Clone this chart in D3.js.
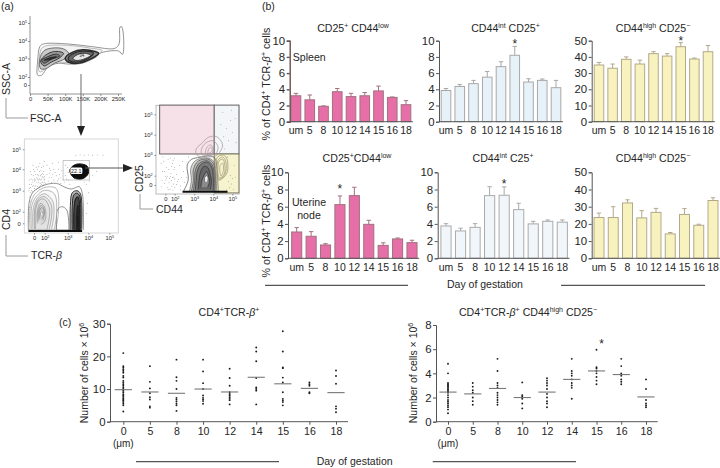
<!DOCTYPE html>
<html><head><meta charset="utf-8">
<script src="https://cdn.jsdelivr.net/npm/d3@7/dist/d3.min.js"></script>
<style>html,body{margin:0;padding:0;background:#fff}svg{display:block}text{font-family:"Liberation Sans",Arial,sans-serif;fill:#262626}</style>
</head><body><svg id="c" width="720" height="468"><defs><filter id="soft" x="-5%" y="-5%" width="110%" height="110%"><feGaussianBlur stdDeviation=".35"/></filter></defs></svg>
<script>
// ---------- data ----------
const barCats = ["um","5","8","10","12","14","15","16","18"];
const spleenLow = [3.2,2.7,1.9,3.7,3.1,3.2,3.8,3.0,2.1];
const spleenLowErr = [3.5,3.3,1.95,4.1,3.5,3.6,4.4,3.05,2.6];
const spleenInt = [3.85,4.35,4.7,5.5,6.8,8.2,4.9,5.1,4.2];
const spleenIntErr = [4.1,4.6,5.1,6.2,7.4,9.3,5.3,5.27,5.1];
const spleenHigh = [35,33,38.5,35.6,42,40.5,46.3,38.7,43.2];
const spleenHighErr = [36.6,35.6,40,38,43.2,42,48.8,39.3,47];
const nodeLow = [3.06,2.56,1.55,6.24,7.29,3.95,1.5,2.25,1.82];
const nodeLowErr = [3.57,3.1,1.7,7.25,8.26,4.42,1.8,2.36,2.1];
const nodeInt = [3.76,3.18,3.6,7.29,7.33,5.66,4.0,4.3,4.2];
const nodeIntErr = [4.03,3.5,4.03,8.33,8.3,6.4,4.3,4.46,4.46];
const nodeHigh = [23.7,23.7,32.2,23.5,26.7,14.2,25.5,19.2,33.6];
const nodeHighErr = [26.3,30,34,27.7,29,15,28.9,19.8,35.2];

const dotCats = ["0","5","8","10","12","14","15","16","18"];
const allCells = [
 [3.1,5,5.5,6,6.4,6.8,7.2,7.6,8,8.4,9,9.5,10,10.5,11,11.5,12,12.5,13.5,14,15,15.5,16,16.5,17,21],
 [4.3,4.7,6.8,7.5,8.7,10.2,12.2,17],
 [3.3,5,5.5,6.2,6.8,7.3,10,12.5,13.6,19],
 [5.5,6.3,6.8,7.3,8,10,11.8,15.4,19],
 [5.3,6.6,7,7.5,8,8.5,9,11,13.4,16.2],
 [5.3,9.5,10,10.5,13.4,18.5,21.5,22.7],
 [5,6,6.5,7,9,12,13.5,16.4,16.6,21.5,27.7],
 [8.7,9,11,11.5,12],
 [2.9,4,4.7,11.6,14,15.7]];
const allMedians = [9.8,9.1,8.7,10,9.1,13.6,11.6,10.2,8.9];
const highCells = [
 [.7,1,1.2,1.35,1.5,1.65,1.8,2,2.2,2.4,2.5,2.6,2.7,2.8,2.9,3,3.1,3.2,4,4.8],
 [1.4,1.7,2,2.4,2.6,2.9,3.2],
 [1.4,1.6,1.8,2,2.2,2.4,2.8,3,3.2,4.2,5.2],
 [1.1,1.5,1.9,2.1,2.2,3.25],
 [1.2,1.5,1.7,2,2.3,2.7,3,3.2,3.4,3.6],
 [1.9,2.8,3,3.2,3.5,3.8,4,4.2,5.2],
 [3.1,3.4,3.7,4,4.2,4.4,4.5,5.95],
 [3.1,3.3,3.5,3.8,4,4.6,5.2],
 [1.2,1.35,1.5,1.8,2.7,3.5]];
const highMedians = [2.45,2.3,2.75,2,2.45,3.5,4.2,3.9,2.05];

// flow plot 1: [FSC in K, log10 SSC]
const fscContours = [
 [[22,2.92],[28,3.68],[38,3.83],[109,3.83],[175,3.68],[241,3.58],[253,3.83],[256,4.78],[261,4.78],[263,3.24],[251,3.43],[199,3.3],[189,3.1],[147,2.74],[109,2.7],[80,2.74],[52,2.56],[33,2.1],[22,2.1]],
 [[26,2.95],[32,3.55],[45,3.72],[110,3.75],[170,3.6],[205,3.45],[190,3.2],[150,2.85],[110,2.78],[75,2.8],[50,2.65],[35,2.3],[26,2.3]],
 [[28,3],[40,3.45],[65,3.6],[95,3.55],[110,3.3],[100,3],[70,2.75],[45,2.45],[30,2.45]],
 [[30,2.85],[45,3.2],[70,3.4],[95,3.3],[85,3.05],[60,2.8],[40,2.6]],
 [[33,2.9],[50,3.1],[75,3.25],[85,3.15],[60,2.95],[40,2.75]],
 [[40,2.9],[60,3.05],[75,3.1],[60,2.98]],
 [[100,3],[120,3.35],[150,3.5],[185,3.4],[195,3.3],[170,2.95],[140,2.75],[110,2.8]],
 [[108,3],[125,3.3],[150,3.42],[180,3.32],[165,3],[140,2.82],[115,2.85]],
 [[122,3],[135,3.22],[155,3.3],[172,3.18],[150,2.95],[130,2.9]]];
const fscContourWeights = [.8,.5,.6,.9,.9,1.2,1.5,1.2,.8];
const fscContourFills = ["none","#f3f3f3","#c9c9c9","#9c9c9c","#777","#444","#888","#666","#e6e6e6"];

// flow plot 2: [log10 TCR, log10 CD4]
const cd4Contours = [
 [[-1.06,-1.14],[-.88,2.48],[-.12,2.95],[2.01,3.27],[2.52,3.34],[2.88,3.16],[3.19,3.08],[3.56,3.19],[3.71,2.87],[3.76,-1.14]],
 [[2.52,-1.14],[2.55,2.08],[2.74,2.24],[2.96,2.08],[3.06,-1.14]],
 [[-.75,-1],[-.65,2.35],[.2,2.85],[2,3.15],[2.5,3.1],[2.6,2],[2.48,-1]],
 [[-.5,-1],[-.4,2.3],[.5,2.75],[2,3.02],[2.42,2.85],[2.52,1.8],[2.42,-1]],
 [[-.2,-1],[-.1,2.2],[.8,2.7],[2,2.85],[2.35,2.5],[2.4,1.5],[2.3,-1]],
 [[.1,-1],[.15,2.15],[.9,2.62],[1.95,2.72],[2.28,2.35],[2.3,1.2],[2.2,-1]],
 [[.3,-1],[.3,2.1],[1,2.55],[1.9,2.6],[2.2,2.2],[2.2,1],[2.1,-1]],
 [[.6,0],[.6,2],[1.2,2.4],[1.8,2.3],[2.05,1.9],[2,.3],[1.3,-.2]],
 [[.8,.4],[.8,2],[1.3,2.3],[1.8,2.2],[1.95,1.7],[1.7,.5]],
 [[1,.8],[1,2],[1.4,2.2],[1.8,2.1],[1.85,1.5],[1.5,.8]],
 [[1.2,1.3],[1.3,1.9],[1.6,1.95],[1.65,1.5]],
 [[3.12,-1.1],[3.13,2.3],[3.22,2.9],[3.45,3],[3.62,2.85],[3.68,-1.1]],
 [[3.22,-1.1],[3.22,2.2],[3.3,2.8],[3.45,2.88],[3.58,2.75],[3.63,-1.1]],
 [[3.3,-1.1],[3.3,2],[3.38,2.6],[3.5,2.7],[3.57,2.4],[3.58,-1.1]],
 [[3.45,-1.1],[3.45,1.5],[3.5,2.3],[3.55,1.5],[3.55,-1.1]]];
const cd4ContourWeights = [.7,.7,.45,.45,.45,.45,.45,.45,.45,.45,.45,.9,1,1.2,2];
const cd4ContourFills = ["none","#fff","none","#f8f8f8","#f1f1f1","#e9e9e9","#e2e2e2","#dbdbdb","#d2d2d2","#cbcbcb","#efefef","#bbb","#888","#444","#111"];
const cd4Band = [[-1.05,-1.3],[3.7,-1.3]];
const cd4Blob = [[3.1,3.95],[3.3,4.2],[3.6,4.27],[3.95,4.15],[4,3.8],[3.7,3.55],[3.3,3.6]];
const cd4Gate = [[2.8,4.44],[4.05,3.5]];
const cd4Dots = [[-.8,3.1],[-.5,3.3],[-.2,3.5],[.2,3.2],[.5,3.6],[.9,3.4],[1.2,3.7],[1.5,3.4],[1.8,3.9],[2,3.5],[2.2,3.8],[2.4,3.5],[2.6,4],[2.7,3.6],[2.9,3.7],[3,4.1],[.1,3.9],[.6,4],[1,3.9],[1.4,4.1],[1.7,3.6],[2.1,4.2],[2.3,3.4],[2.5,3.7],[-.6,2.9],[-.9,2.7],[-.3,3.2],[.3,3.5],[.8,3.7],[1.3,3.5],[1.6,3.8],[1.9,3.4],[2.2,3.6],[2.8,3.5],[3.05,3.5],[-.9,3.5],[-.7,3.9],[-.2,4.2],[1.1,4.3],[1.9,4.4],[2.6,4.35],[3.4,4.7],[3.6,4.72],[3.8,4.7],[4,4.72],[4.2,4.7],[4.45,4.72],[4.7,4.7],[-.9,1.5],[-.95,.8],[-.95,2.1],[.1,3.1],[.7,3.2],[1.1,3.2],[1.6,3.25],[2.4,4],[2.9,4.2],[3.1,3.3],[3.8,3.4],[4.2,3.7],[4.4,3.9],
 [-.95,3],[-.85,3.3],[-.75,2.5],[-.65,3.15],[-.55,3.55],[-.45,3],[-.35,3.4],[-.25,2.95],[-.15,3.7],[-.05,3.25],[.05,3.55],[.15,3],[.25,3.75],[.35,3.25],[.45,3.05],[.55,3.4],[.65,3.75],[.75,3.1],[.85,3.5],[.95,3.15],[1.05,3.55],[1.15,3.35],[1.25,3.25],[1.35,3.75],[1.45,3.55],[1.55,3.65],[1.65,3.4],[1.75,3.75],[1.85,3.3],[1.95,3.65],[2.05,3.35],[2.15,3.45],[2.25,3.95],[2.35,3.75],[2.45,3.85],[2.55,3.45],[2.65,3.75],[2.75,3.95],[2.85,3.4],[2.95,3.55],[3.02,3.85],[-.9,2.2],[-.95,1.8],[-.98,1.2],[-.98,.4],[-.1,4],[.4,4.1],[.85,4.15],[1.3,3.95],[1.75,4.15],[2.2,4.05],[2.35,4.3],[-.5,3.75],[.1,3.45],[.7,3.55],[1.4,3.3],[1.9,3.55],[2.1,3.75],[2.3,3.6],[2.6,3.55],[2.7,3.35],[3.9,3.3],[4.05,3.45],[4,2.9],[3.95,2.4],[3.9,1.7]];

// flow plot 3: [log10 CD44, log10 CD25]
const cd25Contours = [
 [[2.44,-1.4],[2.69,1.07],[2.64,2.52],[2.86,2.79],[3.3,2.89],[3.83,2.95],[4.09,2.84],[4.18,2.44],[4.26,-1.4]],
 [[2.75,-1.4],[2.85,1],[2.82,2.35],[3.05,2.72],[3.6,2.86],[4,2.72],[4.12,2.2],[4.18,-1.4]],
 [[2.85,-1.4],[2.95,1],[2.95,2.3],[3.2,2.7],[3.7,2.8],[4,2.6],[4.1,2],[4.1,-1.4]],
 [[2.95,-1.3],[3.02,1],[3.05,2.25],[3.28,2.62],[3.7,2.72],[3.96,2.5],[4.05,1.7],[4.05,-1.3]],
 [[3.05,-1.2],[3.1,1],[3.15,2.2],[3.35,2.55],[3.7,2.65],[3.92,2.4],[4,1.5],[4,-1.2]],
 [[3.2,-1],[3.25,1],[3.3,2.1],[3.5,2.45],[3.7,2.4],[3.85,2],[3.9,1],[3.85,-1]],
 [[3.35,-.5],[3.4,1],[3.5,2],[3.65,2.2],[3.75,1.9],[3.8,.8],[3.7,-.5]],
 [[3.55,.7],[3.55,1.6],[3.65,2],[3.72,1.6],[3.7,.7]]];
const cd25ContourWeights = [.6,.5,.6,.6,.7,.8,.8,.5];
const cd25ContourFills = ["none","#dcd9d2","#bbb","#999","#7a7a7a","#666","#8a8a8a","#f2f2f2"];
const cd25UpperRings = [
 [[3.12,3.0],[3.1,3.3],[3.39,3.57],[3.74,3.87],[4.18,3.9],[4.49,3.49],[4.26,3.05],[4.0,2.92]],
 [[3.4,3.02],[3.4,3.35],[3.65,3.62],[4,3.7],[4.25,3.4],[4.1,3.05]],
 [[3.6,3.05],[3.65,3.35],[3.85,3.5],[4,3.3],[3.9,3.05]],
 [[3.72,3.08],[3.76,3.3],[3.88,3.38],[3.94,3.2]]];
const cd25YellowRings = [
 [[4.18,2.84],[4.49,3.0],[4.7,2.85],[4.74,2.19],[4.49,1.4],[4.26,1.07]],
 [[4.25,2.75],[4.5,2.9],[4.65,2.7],[4.65,2.15],[4.45,1.5],[4.28,1.3]],
 [[4.3,2.7],[4.5,2.8],[4.6,2.55],[4.58,2.1],[4.42,1.65],[4.3,1.6]],
 [[4.36,2.5],[4.5,2.6],[4.52,2.2],[4.4,1.9]]];
const cd25Band = [[2.4,-1.45],[4.75,-1.45]];
const cd25Gates = {
 pink:[[-1.2,5.45],[4.05,3.05]],
 blue:[[4.05,5.45],[5.35,3.05]],
 yellow:[[4.05,3.05],[5.35,-1.7]]};
const cd25Dots = [[-.9,2.6],[-.6,2.2],[-.3,2.7],[0,1.8],[.3,2.4],[.6,2.8],[.9,1.4],[1.2,2.1],[1.5,2.6],[1.8,1.7],[2,2.4],[2.2,1.2],[2.4,2.7],[2.6,1.7],[-.7,1],[-.2,.3],[.4,-.5],[.8,.5],[1.3,.9],[1.7,.2],[2.1,.1],[-.8,-.4],[.1,1.1],[1.1,2.85],[1.9,2.85],[-.5,2.9],[.5,1.9],[1,-.9],[1.6,-1.1],[2,-.6],[2.3,-1],[2.7,2.9],[4.8,.7],[4.9,2],[5,1.4],[5.1,2.5],[4.85,-.6],[5.05,-1],[4.6,3.3],[4.8,3.7],[5,4.1],[4.7,4.3],[4.4,4.5],[4.9,4.7],
 [2.25,2.5],[2.1,2.05],[1.85,2.3],[1.65,2.75],[1.3,2.45],[1.05,1.85],[.75,2.3],[.25,1.5],[-.1,2.2],[2.35,1.6],[2.45,2.2],[2.15,.7],[1.95,1.3],[1.5,1.6],[2.5,.6],[2.3,-.2],[1.4,-.3],[.6,-1],[4.7,-1.1],[4.95,.2],[5.15,1.7],[4.75,2.9],[5.2,3.6],[4.55,3.9],[5.15,4.8],[4.5,5.1],[4.95,5.2]];

// ---------- helpers ----------
const svg = d3.select("#c");
const ink = "#262626";
function rich(sel, parts, supScale=.66){
  const fs = parseFloat(sel.attr("font-size"));
  let raised = false;
  parts.forEach(p=>{
    const [t,m] = Array.isArray(p)?p:[p,""];
    const ts = sel.append("tspan").text(t);
    const sup = m && m.includes("s");
    if(sup){ ts.attr("font-size",fs*supScale); if(!raised){ts.attr("dy",-fs*.36);raised=true;} }
    else if(raised){ ts.attr("dy",fs*.36); raised=false; }
    if(m && m.includes("i")) ts.attr("font-style","italic");
  });
  return sel;
}
function label(x,y,parts,size,opt={}){
  const t = svg.append("text").attr("x",x).attr("y",y).attr("font-size",size)
    .attr("text-anchor",opt.anchor||"start");
  if(opt.rotate) t.attr("transform",`rotate(${opt.rotate} ${x} ${y})`);
  return rich(t,Array.isArray(parts)?parts:[parts]);
}
function hline(x1,x2,y,color="#555",w=1.2){
  svg.append("path").attr("d",d3.line()([[x1,y],[x2,y]])).attr("stroke",color).attr("stroke-width",w).attr("fill","none");
}

// ---------- (b) bars ----------
function barPanel(cfg){
  const step = (cfg.last-cfg.first)/(barCats.length-1);
  const x = d3.scaleBand().domain(barCats).range([cfg.first-step/2,cfg.last+step/2]).paddingInner(.3).paddingOuter(.15);
  const y = d3.scaleLinear().domain([0,cfg.max]).range([cfg.y0,cfg.yTop]);
  const g = svg.append("g");
  const cx = c=>x(c)+x.bandwidth()/2;
  barCats.forEach((c,i)=>{
    g.append("path").attr("fill","none").attr("stroke",cfg.stroke).attr("stroke-width",1)
     .attr("d",`M${cx(c)},${y(cfg.v[i])}V${y(cfg.e[i])}M${cx(c)-2.2},${y(cfg.e[i])}H${cx(c)+2.2}`);
  });
  g.selectAll("rect").data(cfg.v).join("rect")
    .attr("x",(d,i)=>x(barCats[i])).attr("width",x.bandwidth())
    .attr("y",d=>y(d)).attr("height",d=>y(0)-y(d))
    .attr("fill",cfg.fill).attr("stroke",cfg.stroke).attr("stroke-width",1);
  const ya = g.append("g").attr("transform",`translate(${cfg.axisX},0)`)
    .call(d3.axisLeft(y).tickValues(d3.range(0,cfg.max+1,cfg.max/5)).tickSize(3).tickPadding(1.5));
  ya.selectAll("text").attr("font-size",11.4).attr("fill",ink);
  ya.selectAll("path,line").attr("stroke",cfg.axisColor||"#555").attr("stroke-width",cfg.axisW||1);
  const xa = g.append("g").attr("transform",`translate(0,${cfg.y0})`)
    .call(d3.axisBottom(x).tickSize(0).tickPadding(5));
  xa.select("path").attr("d",`M${cfg.axisX},0H${cfg.last+step/2}`).attr("stroke","#555").attr("stroke-width",1);
  xa.selectAll("text").attr("font-size",10.5).attr("fill",ink);
  (cfg.stars||[]).forEach(c=>{
    const i = barCats.indexOf(c);
    g.append("text").attr("x",cx(c)).attr("y",y(cfg.e[i])+7.4-cfg.starGap).attr("text-anchor","middle").attr("font-size",12).text("*");
  });
}
const pink={fill:"#e76fa8",stroke:"#a2707f"}, blue={fill:"#e6f1f8",stroke:"#a8a8a8"},
      paleBlue={fill:"#f1f6fa",stroke:"#aaaaaa"}, yellow={fill:"#f8f2bf",stroke:"#b3a98a"};
barPanel({...pink,v:spleenLow,e:spleenLowErr,max:10,y0:121.7,yTop:40.7,axisX:289.7,first:296,last:406,axisW:1.4,axisColor:"#6a5050"});
barPanel({...blue,v:spleenInt,e:spleenIntErr,max:10,y0:121.7,yTop:40.7,axisX:439,first:446,last:556,stars:["14"],starGap:5.7});
barPanel({...yellow,v:spleenHigh,e:spleenHighErr,max:50,y0:121.7,yTop:40.7,axisX:591.7,first:599,last:708,stars:["15"],starGap:4.6});
barPanel({...pink,v:nodeLow,e:nodeLowErr,max:10,y0:258.3,yTop:172.3,axisX:288,first:296.7,last:412,stars:["10"],starGap:10});
barPanel({...paleBlue,v:nodeInt,e:nodeIntErr,max:10,y0:258.3,yTop:172.3,axisX:437.7,first:446,last:562.3,stars:["12"],starGap:6.3});
barPanel({...yellow,v:nodeHigh,e:nodeHighErr,max:50,y0:258.3,yTop:172.3,axisX:591.7,first:599,last:713});

const titleSize=10.6;
label(353,32,["CD25",["+","s"]," CD44",["low","s"]],titleSize,{anchor:"middle"});
label(505.5,32,["CD44",["int","s"]," CD25",["+","s"]],titleSize,{anchor:"middle"});
label(653,32,["CD44",["high","s"]," CD25",["−","s"]],titleSize,{anchor:"middle"});
label(357,161.7,["CD25",["+","s"],"CD44",["low","s"]],titleSize,{anchor:"middle"});
label(503,161.7,["CD44",["int","s"]," C25",["+","s"]],titleSize,{anchor:"middle"});
label(653,161.7,["CD44",["high","s"]," CD25",["−","s"]],titleSize,{anchor:"middle"});
const yBar=["% of CD4",["+","s"]," TCR-",["β","i"],["+","s"]," cells"];
label(270,84,yBar,10.7,{anchor:"middle",rotate:-90});
label(270,221,yBar,10.7,{anchor:"middle",rotate:-90});
label(292.7,60.7,"Spleen",10.6);
label(309,206,"Uterine",10.6,{anchor:"middle"});
label(309,219,"node",10.6,{anchor:"middle"});
hline(265,408,285.3); hline(561,705,285.3);
label(447,288,"Day of gestation",10.5);
label(1,10,"(a)",10.5); label(262,10,"(b)",10.5); label(59,326,"(c)",10.5);

// ---------- (c) dots ----------
function dotPanel(cfg){
  const x = d3.scalePoint().domain(dotCats).range([cfg.first,cfg.last]);
  const y = d3.scaleLinear().domain([0,cfg.max]).range([421.7,cfg.yTop]);
  const g = svg.append("g");
  const ya = g.append("g").attr("transform",`translate(${cfg.axisX},0)`)
    .call(d3.axisLeft(y).tickValues(cfg.ticks).tickSize(3).tickPadding(1.5));
  ya.selectAll("text").attr("font-size",11.4).attr("fill",ink);
  ya.selectAll("path,line").attr("stroke","#555");
  const xa = g.append("g").attr("transform","translate(0,421.7)")
    .call(d3.axisBottom(x).tickSize(3).tickPadding(3));
  xa.select("path").attr("d",`M${cfg.axisX},0H${cfg.axisEnd}`).attr("stroke","#555");
  xa.selectAll("line").attr("stroke","#555");
  xa.selectAll("text").attr("font-size",10.6).attr("fill",ink);
  dotCats.forEach((c,i)=>{
    g.selectAll(null).data(cfg.v[i]).join("circle")
      .attr("cx",x(c)).attr("cy",d=>y(d)).attr("r",.95).attr("fill","#1a1a1a");
    g.append("path").attr("d",`M${x(c)-8.6},${y(cfg.m[i])}H${x(c)+8.6}`)
      .attr("stroke","#777").attr("stroke-width",1.1);
  });
  label(cfg.first,446.7,"(μm)",10,{anchor:"middle"});
}
dotPanel({v:allCells,m:allMedians,max:30,ticks:[0,10,20,30],yTop:323.7,axisX:110,axisEnd:348,first:123.3,last:336});
dotPanel({v:highCells,m:highMedians,max:8,ticks:[0,2,4,6,8],yTop:325,axisX:436,axisEnd:657.7,first:448,last:646});
label(229,315.7,["CD4",["+","s"],"TCR-",["β","i"],["+","s"]],10.6,{anchor:"middle"});
label(528,315.7,["CD4",["+","s"],"TCR-",["β","i"],["+","s"]," CD44",["high","s"]," CD25",["−","s"]],10.6,{anchor:"middle"});
const yDot=["Number of cells × 10",["6","s"]];
label(88,373,yDot,10.5,{anchor:"middle",rotate:-90});
label(417,373,yDot,10.5,{anchor:"middle",rotate:-90});
label(601.7,348,"*",12,{anchor:"middle"});
hline(136,279,461.7); hline(432.7,576,461.7);
label(316.7,465,"Day of gestation",10.5);

// ---------- (a) flow plots ----------
const smooth = d3.curveCatmullRom.alpha(.5), smoothC = d3.curveCatmullRomClosed.alpha(.5);
function decadeLabel(sel){
  sel.each(function(d){
    const t=d3.select(this);
    if(d===0){t.text("0");return;}
    t.text("10");
    t.append("tspan").attr("font-size",3.8).attr("dy",-2).text(d);
  });
  sel.attr("font-size",5.8).attr("fill",ink);
}
function styleFlowAxis(g){ g.selectAll("path,line").attr("stroke","#666").attr("stroke-width",.7); }

// plot 1
{
  const x=d3.scaleLinear().domain([0,250]).range([30,118]);
  const y=d3.scaleLinear().domain([0,2,3,4,5]).range([85,77,58.5,41,23]);
  const gy=svg.append("g").attr("transform","translate(30,0)").call(d3.axisLeft(y).tickValues([0,2,3,4,5]).tickSize(2).tickPadding(1));
  gy.select("path").attr("d","M0,16V94");
  gy.selectAll("text").call(decadeLabel); styleFlowAxis(gy);
  const gx=svg.append("g").attr("transform","translate(0,94)").call(d3.axisBottom(x).tickValues([0,50,100,150,200,250]).tickSize(2).tickPadding(1).tickFormat(d=>d?d+"K":"0"));
  gx.select("path").attr("d","M30,0H122");
  gx.selectAll("text").attr("font-size",5.8).attr("fill",ink); styleFlowAxis(gx);
  const line=d3.line().x(d=>x(d[0])).y(d=>y(d[1])).curve(smoothC);
  svg.append("g").attr("filter","url(#soft)").selectAll("path").data(fscContours).join("path").attr("d",line)
    .attr("fill",(d,i)=>fscContourFills[i]).attr("stroke",(d,i)=>i<2?"#777":"#2a2a2a").attr("stroke-width",(d,i)=>fscContourWeights[i]);
  label(x(147),y(3.07),"34",4.5,{anchor:"middle"});
}
// plot 2
{
  const x=d3.scaleLinear().domain([0,2,3,4,5]).range([34,44.7,67.7,88.3,109.3]);
  const y=d3.scaleLinear().domain([0,2,3,4,5]).range([223.3,211.7,190.7,169.3,149.3]);
  svg.append("rect").attr("x",24.3).attr("y",139).attr("width",94).attr("height",94).attr("fill","#fff").attr("stroke","#ccc").attr("stroke-width",.8);
  svg.append("g").selectAll("circle").data(cd4Dots).join("circle").attr("cx",d=>x(d[0])).attr("cy",d=>y(d[1])).attr("r",.45).attr("fill","#777");
  const line=d3.line().x(d=>x(d[0])).y(d=>y(d[1])).curve(smooth);
  const fl=svg.append("g").attr("filter","url(#soft)");
  fl.selectAll("path").data(cd4Contours).join("path").attr("d",line)
    .attr("fill",(d,i)=>cd4ContourFills[i]).attr("stroke",(d,i)=>i>=11?"#222":"#666").attr("stroke-width",(d,i)=>cd4ContourWeights[i]);
  fl.append("path").attr("d",d3.line().x(d=>x(d[0])).y(d=>y(d[1]))(cd4Band)).attr("stroke","#111").attr("stroke-width",2.4);
  svg.append("rect").attr("x",x(cd4Gate[0][0])).attr("y",y(cd4Gate[0][1]))
    .attr("width",x(cd4Gate[1][0])-x(cd4Gate[0][0])).attr("height",y(cd4Gate[1][1])-y(cd4Gate[0][1]))
    .attr("fill","none").attr("stroke","#bbb").attr("stroke-width",.8);
  fl.append("path").attr("d",d3.line().x(d=>x(d[0])).y(d=>y(d[1])).curve(smoothC)(cd4Blob))
    .attr("fill","#111").attr("stroke","#111").attr("stroke-width",1);
  svg.append("rect").attr("x",x(3.42)-6).attr("y",y(3.93)-3.3).attr("width",12).attr("height",6.6).attr("rx",1.5).attr("fill","#fff");
  label(x(3.42),y(3.93)+2,"22.1",5.4,{anchor:"middle"});
  const gy=svg.append("g").attr("transform","translate(24.3,0)").call(d3.axisLeft(y).tickValues([0,2,3,4,5]).tickSize(1.5).tickPadding(2));
  gy.select("path").remove(); gy.selectAll("text").call(decadeLabel); styleFlowAxis(gy);
  const gx=svg.append("g").attr("transform","translate(0,233)").call(d3.axisBottom(x).tickValues([0,2,3,4,5]).tickSize(1.5).tickPadding(1.5));
  gx.select("path").remove(); gx.selectAll("text").call(decadeLabel); styleFlowAxis(gx);
}
// plot 3
{
  const x=d3.scaleLinear().domain([0,2,3,4,5]).range([165.3,174.7,194.3,213.3,232.3]);
  const y=d3.scaleLinear().domain([0,2,3,4,5]).range([185,175.7,155,134.7,114.3]);
  const gate=(k,fill,st)=>{const g=cd25Gates[k];
    svg.append("rect").attr("x",x(g[0][0])).attr("y",y(g[0][1])).attr("width",x(g[1][0])-x(g[0][0])).attr("height",y(g[1][1])-y(g[0][1]))
      .attr("fill",fill).attr("stroke",st).attr("stroke-width",1);};
  svg.append("rect").attr("x",156).attr("y",105.3).attr("width",83).attr("height",88.7).attr("fill","#fff").attr("stroke","#aaa").attr("stroke-width",.8);
  gate("pink","#f7e1e8","#6a6060"); gate("blue","#f2f6f8","#6a6a6a"); gate("yellow","#f6f3cf","#807a60");
  svg.append("g").selectAll("circle").data(cd25Dots).join("circle").attr("cx",d=>x(d[0])).attr("cy",d=>y(d[1])).attr("r",.45).attr("fill","#777");
  const line=d3.line().x(d=>x(d[0])).y(d=>y(d[1]));
  const fl=svg.append("g").attr("filter","url(#soft)");
  fl.append("g").selectAll("path").data(cd25Contours).join("path").attr("d",line.curve(smooth))
    .attr("fill",(d,i)=>cd25ContourFills[i]).attr("stroke","#333").attr("stroke-width",(d,i)=>cd25ContourWeights[i]);
  fl.append("g").selectAll("path").data(cd25UpperRings).join("path").attr("d",line.curve(smoothC))
    .attr("fill","none").attr("stroke","#a09398").attr("stroke-width",.7);
  fl.append("g").selectAll("path").data(cd25YellowRings).join("path").attr("d",line.curve(smoothC))
    .attr("fill","none").attr("stroke","#a39d78").attr("stroke-width",.8);
  fl.append("path").attr("d",line.curve(d3.curveLinear)(cd25Band)).attr("stroke","#111").attr("stroke-width",2.2);
  const gy=svg.append("g").attr("transform","translate(156,0)").call(d3.axisLeft(y).tickValues([0,2,3,4,5]).tickSize(1.5).tickPadding(2));
  gy.select("path").remove(); gy.selectAll("text").call(decadeLabel); styleFlowAxis(gy);
  const gx=svg.append("g").attr("transform","translate(0,194)").call(d3.axisBottom(x).tickValues([0,2,3,4,5]).tickSize(1.5).tickPadding(1.5));
  gx.select("path").remove(); gx.selectAll("text").call(decadeLabel); styleFlowAxis(gx);
}
const bracket=(p)=>svg.append("path").attr("d",d3.line()(p)).attr("fill","none").attr("stroke","#9a9a9a").attr("stroke-width",1);
label(10,79,"SSC-A",10.5,{anchor:"middle",rotate:-90});
bracket([[6,98],[6,118],[28,118]]); label(30,122,"FSC-A",10.5);
label(10,219.5,"CD4",10.5,{anchor:"middle",rotate:-90});
bracket([[6,235],[6,256],[28,256]]); label(31,259,["TCR-",["β","i"]],10.5);
label(143,178.5,"CD25",10.5,{anchor:"middle",rotate:-90});
bracket([[140,194],[140,209],[153,209]]); label(156,213,"CD44",10.5);
svg.append("path").attr("d","M81,74V127").attr("stroke","#777").attr("stroke-width",1.1);
svg.append("path").attr("d","M77,126H85L81,136Z").attr("fill","#222");
svg.append("path").attr("d","M85,168H124").attr("stroke","#555").attr("stroke-width",1);
svg.append("path").attr("d","M123,164V172L133,168Z").attr("fill","#222");
</script></body></html>
